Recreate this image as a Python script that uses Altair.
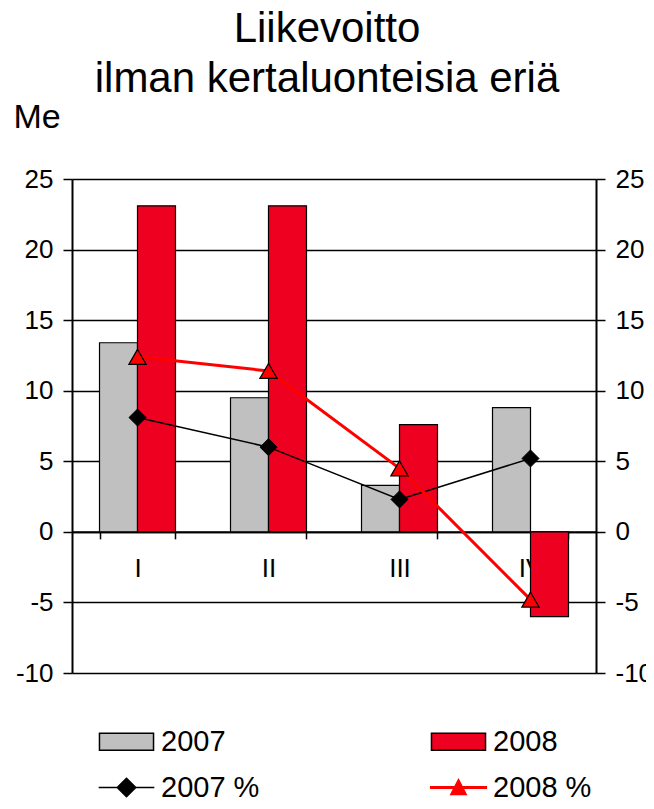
import altair as alt
import pandas as pd

FONT = "Liberation Sans"

quarters = ["I", "II", "III", "IV"]
series_all = ["2007", "2008", "2007 %", "2008 %"]
me_2007 = [13.4, 9.5, 3.3, 8.8]
me_2008 = [23.1, 23.1, 7.6, -6.0]
pct_2007 = [8.1, 6.0, 2.3, 5.2]
pct_2008 = [12.4, 11.4, 4.5, -4.8]
y_ticks = [-10, -5, 0, 5, 10, 15, 20, 25]

bars_df = pd.DataFrame({
    "quarter": quarters * 2,
    "series": ["2007"] * 4 + ["2008"] * 4,
    "value": me_2007 + me_2008,
})
pct_df = pd.DataFrame({
    "quarter": quarters * 2,
    "series": ["2007 %"] * 4 + ["2008 %"] * 4,
    "value": pct_2007 + pct_2008,
})

GRAY = "#C0C0C0"
BAR_RED = "#EE0020"
LINE_RED = "#FF0000"

fill_scale = alt.Scale(domain=series_all, range=[GRAY, BAR_RED, "black", LINE_RED])
stroke_scale = alt.Scale(domain=series_all, range=["black", "black", "black", LINE_RED])
shape_scale = alt.Scale(domain=series_all, range=[
    "M-1.02,-0.32H1.02V0.32H-1.02Z",
    "M-1.02,-0.32H1.02V0.32H-1.02Z",
    "M-1.05,0H1.05M0,-0.35L0.35,0L0,0.35L-0.35,0Z",
    "M-1.05,-0.025H1.05V0.025H-1.05ZM0,-0.3L0.29,0.26L-0.29,0.26Z",
])

leg = alt.Legend(
    title=None, orient="none", legendX=27, legendY=535, columns=2,
    direction="horizontal",
    columnPadding=167, rowPadding=3, padding=0, symbolSize=2809,
    symbolStrokeWidth=1.5, symbolFillColor="black", symbolStrokeColor="black",
    symbolOpacity=1, values=series_all,
    labelFont=FONT, labelFontSize=29, labelColor="black", labelOffset=7,
    labelLimit=400,
)

x_scale = alt.Scale(domain=quarters, paddingInner=0.42, paddingOuter=0.21)
x_axis = alt.Axis(
    orient="bottom", offset=-141.14, title=None, grid=False, labelAngle=0,
    domainColor="black", domainWidth=2, tickColor="black", tickWidth=1.5,
    tickSize=7, tickBand="extent", labelFont=FONT, labelFontSize=26,
    labelColor="black", labelPadding=17,
)
y_scale = alt.Scale(domain=[-10, 25], nice=False, zero=False)
common_y = dict(
    values=y_ticks, domainColor="black", domainWidth=2, tickColor="black",
    tickWidth=1.5, tickSize=9, labelFont=FONT, labelFontSize=26,
    labelColor="black", labelExpr="'' + datum.value",
)
y_left = alt.Axis(
    orient="left", grid=True, gridColor="black", gridWidth=1.5, labelPadding=10,
    title="Me", titleAngle=0, titleFont=FONT, titleFontSize=34,
    titleFontWeight="normal", titleColor="black", titleX=-59, titleY=-52,
    titleAlign="left", titleBaseline="alphabetic", **common_y,
)
y_right = alt.Axis(orient="right", grid=False, title=None, labelPadding=10, **common_y)

x_enc = alt.X("quarter:N", scale=x_scale, axis=x_axis, sort=quarters)

bars = alt.Chart(bars_df).mark_bar(strokeWidth=1.2).encode(
    x=x_enc,
    xOffset=alt.XOffset("series:N", sort=["2007", "2008"]),
    y=alt.Y("value:Q", scale=y_scale, axis=y_left),
    fill=alt.Fill("series:N", scale=fill_scale, legend=leg),
    stroke=alt.Stroke("series:N", scale=stroke_scale, legend=leg),
)

y_r = alt.Y("value:Q", scale=y_scale, axis=y_right)
base_pct = alt.Chart(pct_df)
line07 = base_pct.transform_filter(alt.datum.series == "2007 %").mark_line(strokeWidth=1.5).encode(
    x=x_enc, y=y_r, stroke=alt.Stroke("series:N", scale=stroke_scale, legend=leg))
line08 = base_pct.transform_filter(alt.datum.series == "2008 %").mark_line(strokeWidth=3).encode(
    x=x_enc, y=y_r, stroke=alt.Stroke("series:N", scale=stroke_scale, legend=leg))
pts07 = base_pct.transform_filter(alt.datum.series == "2007 %").mark_point(
    shape="diamond", filled=True, fill="black", stroke="black", strokeWidth=1,
    size=290, opacity=1).encode(x=x_enc, y=y_r)
pts08 = base_pct.transform_filter(alt.datum.series == "2008 %").mark_point(
    shape="triangle-up", filled=True, fill=LINE_RED, stroke="black", strokeWidth=1.2,
    size=300, opacity=1).encode(x=x_enc, y=y_r)

right = alt.layer(line07, line08, pts07, pts08)

legend_layer = base_pct.transform_filter("false").mark_point(filled=True, opacity=1).encode(
    shape=alt.Shape("series:N", scale=shape_scale, legend=leg),
    fill=alt.Fill("series:N", scale=fill_scale, legend=leg),
    stroke=alt.Stroke("series:N", scale=stroke_scale, legend=leg),
)

chart = alt.layer(bars, right, legend_layer).resolve_scale(
    y="independent"
).properties(
    width=524, height=494,
    title=alt.Title(
        text=["Liikevoitto", "ilman kertaluonteisia eriä"], font=FONT,
        fontSize=42, fontWeight="normal", color="black", lineHeight=50,
        anchor="middle", frame="group", dx=-7, offset=-1,
    ),
    autosize=alt.AutoSizeParams(type="none"),
    padding={"left": 64, "top": 171, "right": 50, "bottom": 128},
).configure_view(strokeOpacity=0).configure(background="white")

chart.save("out.html", embed_options={"renderer": "svg", "actions": False})
